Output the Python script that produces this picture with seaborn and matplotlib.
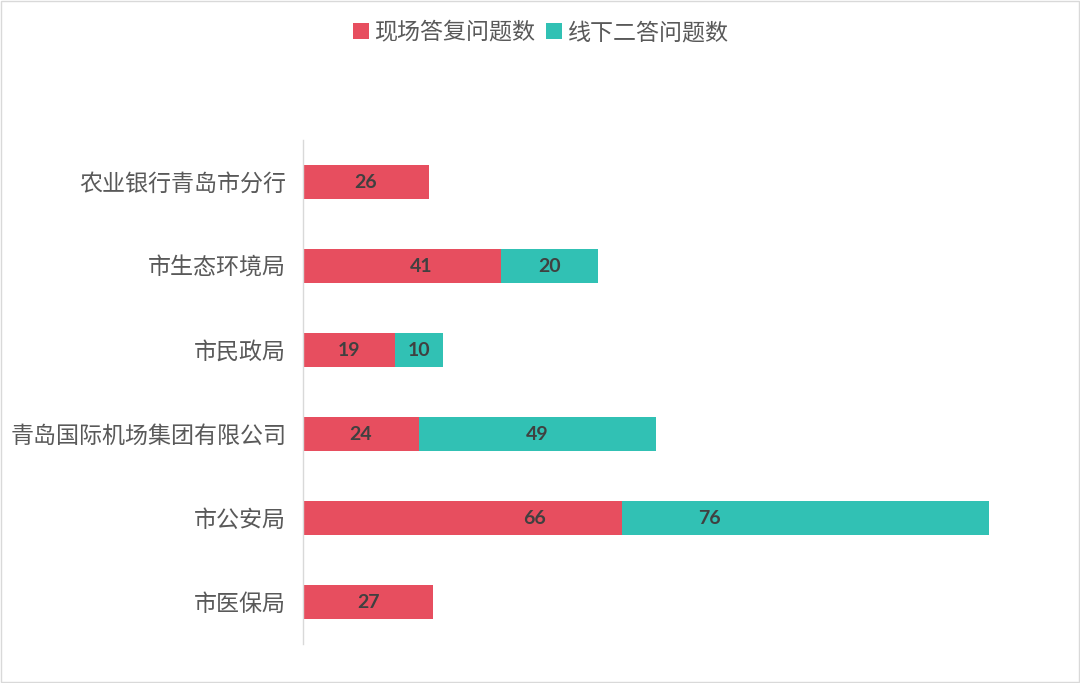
import matplotlib
matplotlib.use("Agg")
import matplotlib.pyplot as plt
import seaborn as sns
import pandas as pd
from matplotlib.patches import Rectangle
from matplotlib.lines import Line2D

categories = ["农业银行青岛市分行", "市生态环境局", "市民政局", "青岛国际机场集团有限公司", "市公安局", "市医保局"]
onsite = [26, 41, 19, 24, 66, 27]
offline = [0, 20, 10, 49, 76, 0]
series_names = ["现场答复问题数", "线下二答问题数"]
# label horizontal nudges (data units) reproducing the reference's manual label placement
onsite_nudge = [0, 4, 0, 0, 15, 0]
offline_nudge = [0, 0, 0, 0, -20, 0]

RED = "#E74E5F"
TEAL = "#31C1B4"
TXT = "#595959"

sns.set_theme(style="white")
plt.rcParams['font.family'] = ['Noto Sans CJK SC', 'DejaVu Sans']

df = pd.DataFrame({"cat": categories, "onsite": onsite, "offline": offline})
df["total"] = df["onsite"] + df["offline"]

fig = plt.figure(figsize=(10.8, 6.83), dpi=100)
ax = fig.add_axes([303 / 1080, 1 - 644 / 683, 723 / 1080, 504 / 683])

sns.barplot(data=df, y="cat", x="total", color=TEAL, saturation=1, width=0.4, ax=ax, orient="h", linewidth=0)
sns.barplot(data=df, y="cat", x="onsite", color=RED, saturation=1, width=0.4, ax=ax, orient="h", linewidth=0)

for i, (a, b) in enumerate(zip(onsite, offline)):
    if a > 0:
        ax.text(a / 2 + onsite_nudge[i], i, str(a), ha="center", va="center",
                fontsize=14, fontweight="bold", color="#404040", family=["Lato", "DejaVu Sans"])
    if b > 0:
        ax.text(a + b / 2 + offline_nudge[i], i, str(b), ha="center", va="center",
                fontsize=14, fontweight="bold", color="#404040", family=["Lato", "DejaVu Sans"])

ax.set_xlim(0, 149.6)
ax.set_ylim(5.5, -0.5)
ax.set_xlabel("")
ax.set_ylabel("")
ax.set_xticks([])
ax.tick_params(axis="y", length=0, pad=12, labelsize=16.6, labelcolor=TXT)
for s in ["top", "right", "bottom"]:
    ax.spines[s].set_visible(False)
ax.spines["left"].set_color("#d9d9d9")
ax.spines["left"].set_linewidth(1)

handles = [Line2D([0], [0], marker="s", linestyle="", markersize=12, markerfacecolor=RED, markeredgewidth=0),
           Line2D([0], [0], marker="s", linestyle="", markersize=12, markerfacecolor=TEAL, markeredgewidth=0)]
fig.legend(handles, series_names, loc="center", bbox_to_anchor=(540 / 1080, 1 - 33 / 683), ncol=2,
           frameon=False, fontsize=16.6, labelcolor=TXT, handletextpad=0.2, columnspacing=0.4, handlelength=0.8)

fig.patches.append(Rectangle((0.001, 0.001), 0.998, 0.997, transform=fig.transFigure, fill=False,
                             edgecolor="#d9d9d9", linewidth=1))

fig.savefig("out.png", dpi=100)
